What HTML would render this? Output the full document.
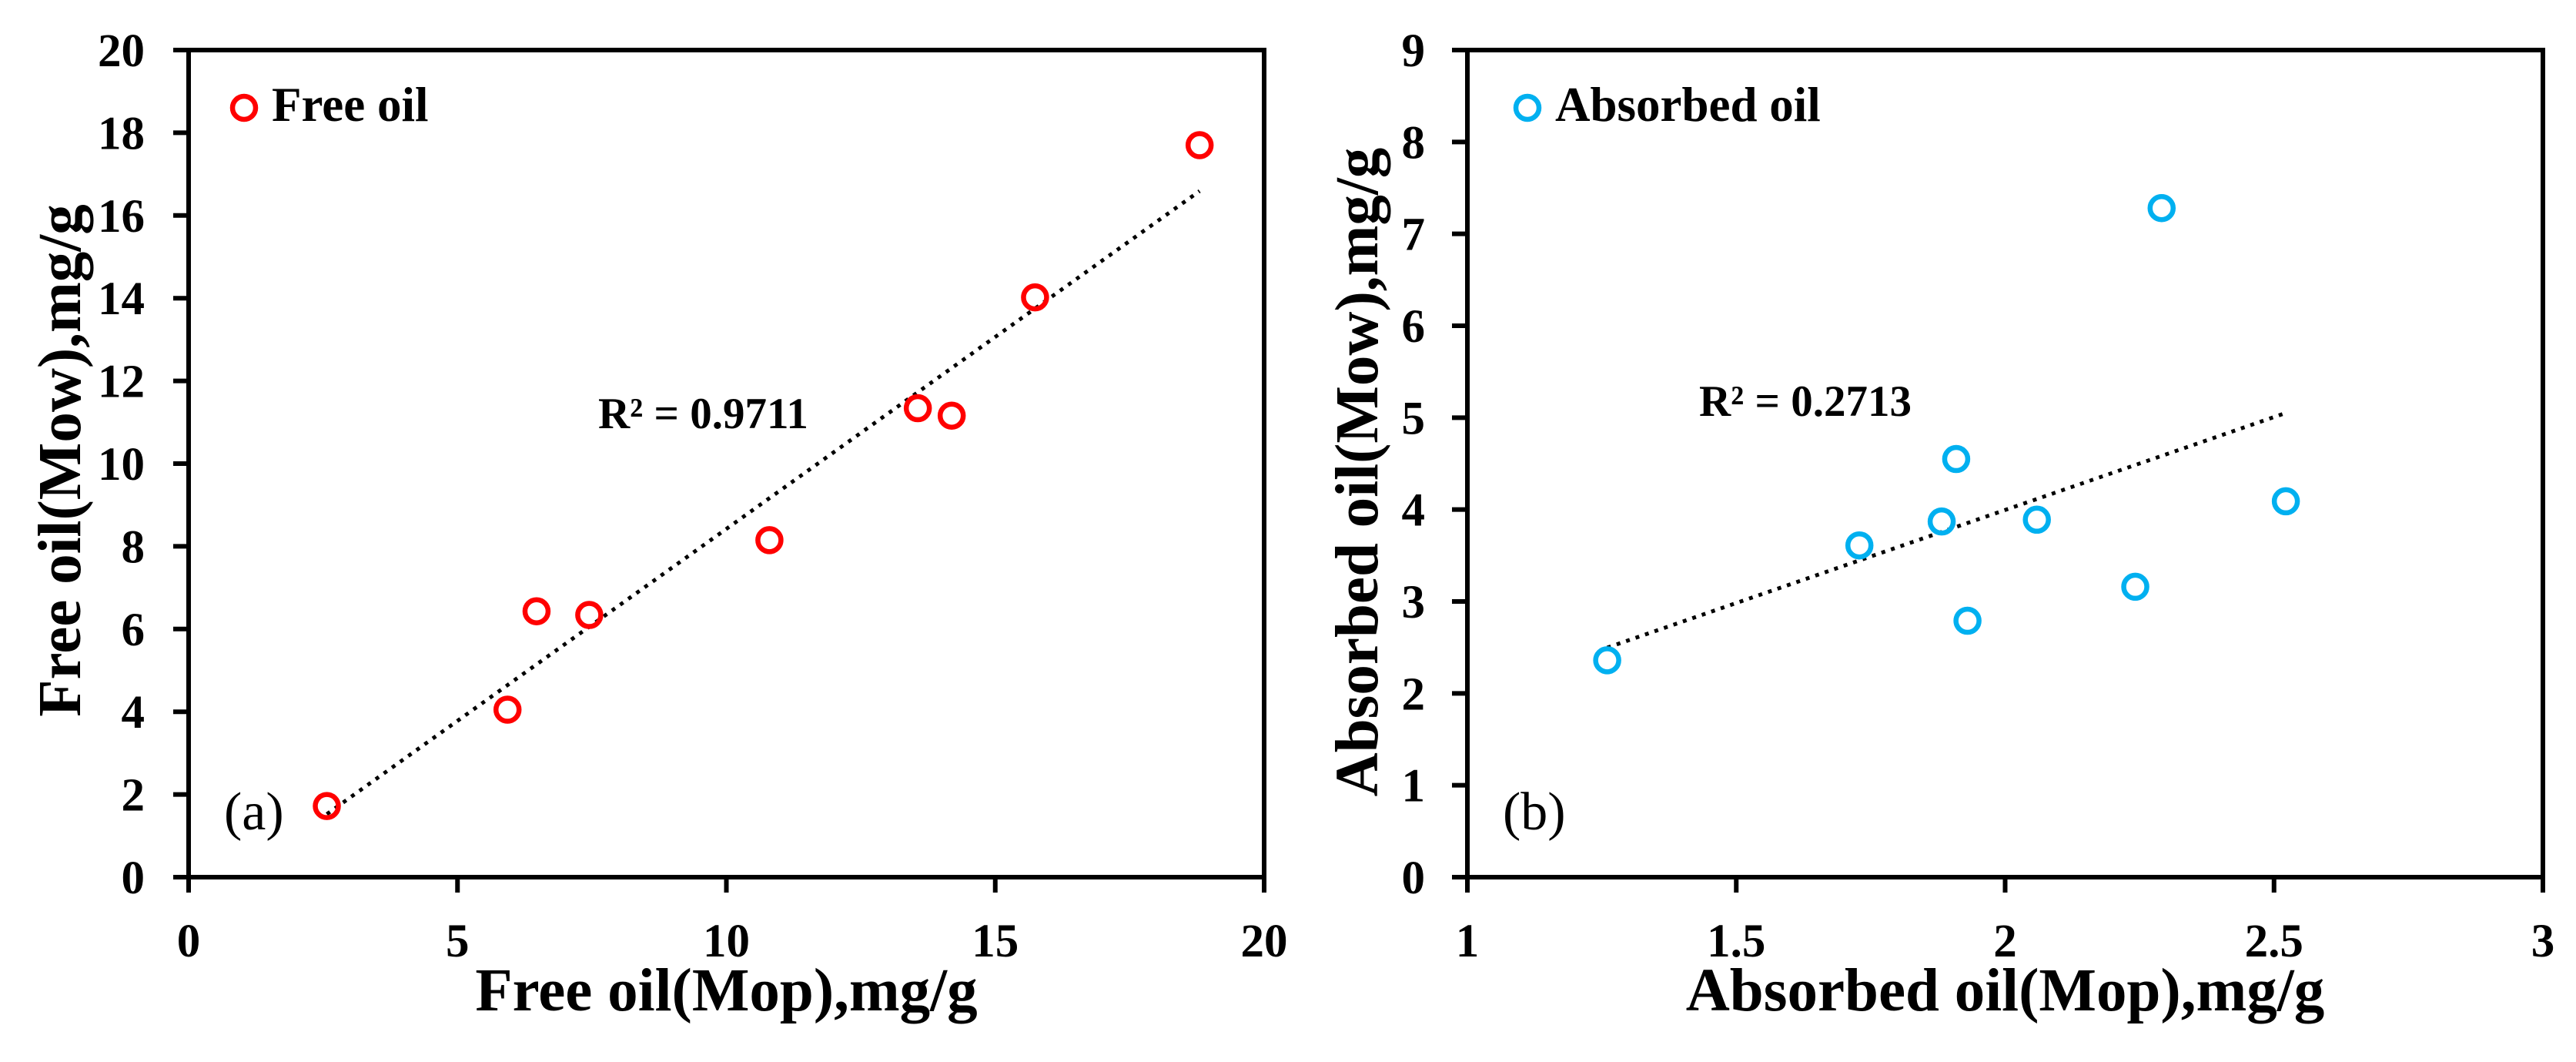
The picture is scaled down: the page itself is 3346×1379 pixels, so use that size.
<!DOCTYPE html>
<html><head><meta charset="utf-8"><style>
html,body{margin:0;padding:0;background:#fff;}
svg{display:block;}
text{font-family:"Liberation Serif",serif;fill:#000;}
</style></head><body>
<svg id="chart" width="3346" height="1379" viewBox="0 0 3346 1379" xmlns="http://www.w3.org/2000/svg"></svg>
<script>
const freeX = [2.57, 5.93, 6.47, 7.45, 10.8, 13.56, 14.19, 15.74, 18.8];
const freeY = [1.72, 4.05, 6.43, 6.34, 8.15, 11.34, 11.16, 14.02, 17.7];
const absX = [1.26, 1.729, 1.882, 1.909, 1.930, 2.059, 2.242, 2.291, 2.522];
const absY = [2.36, 3.61, 3.87, 4.55, 2.79, 3.89, 3.16, 7.28, 4.09];
const aXTicks = [0, 5, 10, 15, 20];
const aYTicks = [0, 2, 4, 6, 8, 10, 12, 14, 16, 18, 20];
const bXTicks = [1, 1.5, 2, 2.5, 3];
const bYTicks = [0, 1, 2, 3, 4, 5, 6, 7, 8, 9];
const aR2 = "R² = 0.9711";
const bR2 = "R² = 0.2713";

const NS = "http://www.w3.org/2000/svg";
const svg = document.getElementById("chart");
function mk(tag, attrs, parent, txt) {
  const e = document.createElementNS(NS, tag);
  for (const k in attrs) e.setAttribute(k, attrs[k]);
  if (txt !== undefined) e.textContent = txt;
  (parent || svg).appendChild(e);
  return e;
}
function fit(xs, ys) {
  const n = xs.length;
  const mx = xs.reduce((a,b)=>a+b,0)/n, my = ys.reduce((a,b)=>a+b,0)/n;
  let sxy=0, sxx=0;
  for (let i=0;i<n;i++){sxy+=(xs[i]-mx)*(ys[i]-my);sxx+=(xs[i]-mx)**2;}
  const m = sxy/sxx; return {m:m, b:my-m*mx};
}
function panel(cfg) {
  const g = mk("g", {});
  
  
  const L=cfg.left, R=cfg.left+1397, T=65, B=1139;
  const sx = v => L + (v-cfg.xmin)/(cfg.xmax-cfg.xmin)*(R-L);
  const sy = v => B - (v-cfg.ymin)/(cfg.ymax-cfg.ymin)*(B-T);
  const frame = mk("rect", {x:L, y:T, width:R-L, height:B-T, fill:"none", stroke:"#000", "stroke-width":6}, g);
  
  
  cfg.xticks.forEach(v => {
    const t = mk("line", {x1:sx(v), x2:sx(v), y1:B, y2:B+20, stroke:"#000", "stroke-width":6}, g);
    
    
    const l = mk("text", {x:sx(v), y:1242, "text-anchor":"middle", "font-size":61, "font-weight":"bold"}, g, String(v));
    
    
  });
  cfg.yticks.forEach(v => {
    const t = mk("line", {x1:L-20, x2:L, y1:sy(v), y2:sy(v), stroke:"#000", "stroke-width":6}, g);
    
    
    const l = mk("text", {x:cfg.ylabRight, y:sy(v)+21, "text-anchor":"end", "font-size":61, "font-weight":"bold"}, g, String(v));
    
    
  });
  const f = fit(cfg.xs, cfg.ys);
  const x0 = Math.min(...cfg.xs), x1 = Math.max(...cfg.xs);
  const tl = mk("line", {x1:sx(x0), y1:sy(f.m*x0+f.b), x2:sx(x1), y2:sy(f.m*x1+f.b), stroke:"#000", "stroke-width":5, "stroke-dasharray":"5 8"}, g);
  
  
  cfg.xs.forEach((v,i) => {
    const c = mk("circle", {cx:sx(v), cy:sy(cfg.ys[i]), r:15, fill:"none", stroke:cfg.color, "stroke-width":6.5}, g);
    
    
  });
  const lm = mk("circle", {cx:cfg.legX, cy:140, r:15, fill:"none", stroke:cfg.color, "stroke-width":6.5}, g);
  
  
  const lt = mk("text", {x:cfg.legX+36, y:157, "font-size":63, "font-weight":"bold"}, g, cfg.legend);
  
  
  const r2 = mk("text", {x:cfg.r2x, y:cfg.r2y, "font-size":57, "font-weight":"bold"}, g, cfg.r2);
  
  
  const pl = mk("text", {x:cfg.left+46, y:1077, "font-size":70}, g, cfg.tag);
  
  
  const xt = mk("text", {x:(L+R)/2, y:1312, "text-anchor":"middle", "font-size":79, "font-weight":"bold"}, g, cfg.xtitle);
  
  
  const yt = mk("text", {x:0, y:0, "text-anchor":"middle", "font-size":79, "font-weight":"bold", transform:`translate(${cfg.ytx},${cfg.yty}) rotate(-90)`}, g, cfg.ytitle);
  
  
}
panel({name:"panel-a-free-oil", left:245, xmin:0, xmax:20, ymin:0, ymax:20, xticks:aXTicks, yticks:aYTicks,
  xs:freeX, ys:freeY, color:"#ff0000", ylabRight:188, legX:317, legend:"Free oil", r2:aR2, r2x:777, r2y:556, tag:"(a)",
  xtitle:"Free oil(Mop),mg/g", ytitle:"Free oil(Mow),mg/g", ytx:104, yty:598});
panel({name:"panel-b-absorbed-oil", left:1906, xmin:1, xmax:3, ymin:0, ymax:9, xticks:bXTicks, yticks:bYTicks,
  xs:absX, ys:absY, color:"#00b0f0", ylabRight:1851, legX:1984, legend:"Absorbed oil", r2:bR2, r2x:2207, r2y:540, tag:"(b)",
  xtitle:"Absorbed oil(Mop),mg/g", ytitle:"Absorbed oil(Mow),mg/g", ytx:1789, yty:613});
</script>
</body></html>
